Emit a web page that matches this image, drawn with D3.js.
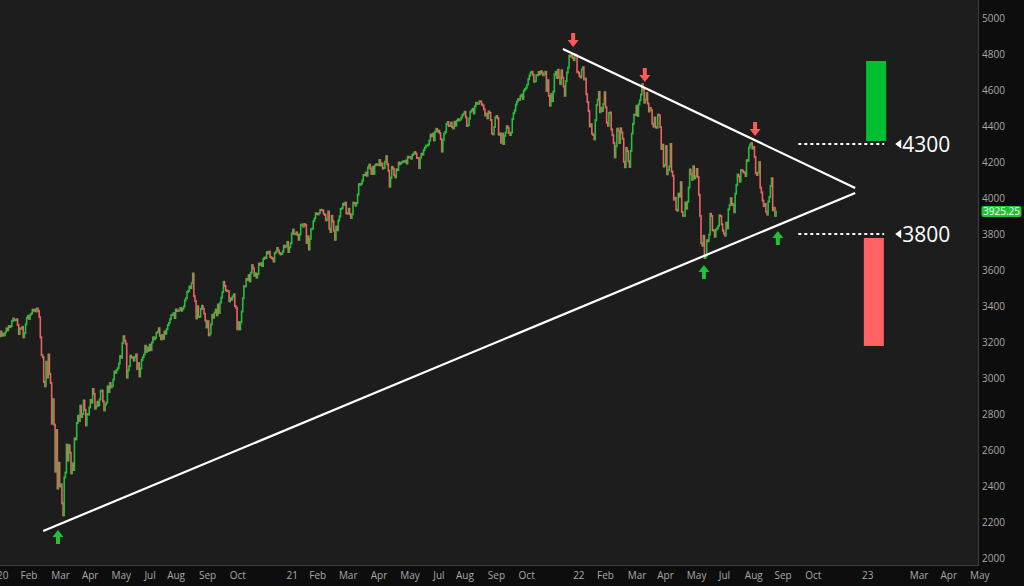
<!DOCTYPE html>
<html><head><meta charset="utf-8">
<script src="https://cdnjs.cloudflare.com/ajax/libs/d3/7.8.5/d3.min.js"></script>
<style>html,body{margin:0;padding:0;background:#0d0d0d;overflow:hidden}</style>
</head><body><svg id="c" width="1024" height="586"></svg>
<script>
// Daily closes (S&P 500 futures), Jan 2020 .. Sep 2022
const closes2020 = [3258,3235,3246,3237,3253,3275,3265,3288,3283,3289,3317,3330,3321,3321,3326,3295,3244,3276,3273,3284,3226,
3249,3298,3335,3345,3328,3352,3358,3379,3374,3380,3370,3386,3373,3338,3226,3128,3116,2979,2954,
3090,3003,3130,3023,2972,2746,2882,2741,2480,2711,2386,2529,2398,2409,2304,2237,2447,2475,2630,2541,2626,2585,
2470,2526,2489,2664,2659,2750,2790,2761,2846,2783,2800,2875,2823,2737,2799,2797,2837,2878,2863,2939,2912,
2830,2842,2868,2848,2881,2929,2930,2870,2820,2852,2863,2953,2922,2972,2948,2955,2991,3036,3029,3044,
3055,3080,3122,3112,3193,3232,3207,3190,3002,3041,3066,3124,3113,3115,3097,3117,3131,3050,3083,3009,3053,3100,
3115,3130,3179,3145,3169,3152,3185,3155,3197,3226,3215,3224,3251,3257,3276,3235,3215,3239,3218,3258,3246,3271,
3294,3306,3327,3349,3351,3360,3333,3380,3373,3372,3381,3389,3374,3385,3397,3431,3443,3478,3484,3508,3500,
3527,3580,3455,3427,3331,3398,3339,3341,3383,3401,3385,3357,3319,3281,3315,3237,3246,3298,3351,3335,3363,
3380,3348,3408,3361,3419,3446,3477,3534,3511,3488,3483,3483,3426,3443,3435,3453,3465,3400,3390,3271,3310,3270,
3310,3369,3443,3510,3509,3550,3545,3572,3537,3585,3627,3609,3568,3581,3558,3577,3635,3629,3638,3622,
3662,3669,3666,3699,3692,3702,3672,3668,3663,3647,3694,3701,3722,3709,3694,3687,3690,3703,3735,3727,3732,3756];
const closes2021 = [3700,3726,3748,3803,3824,3799,3801,3809,3795,3768,3798,3851,3853,3841,3855,3849,3750,3787,3714,
3773,3826,3830,3871,3886,3915,3911,3909,3916,3934,3932,3931,3913,3906,3876,3881,3925,3829,3811,
3901,3870,3819,3768,3841,3821,3875,3898,3939,3943,3968,3962,3974,3915,3913,3940,3910,3889,3909,3974,3971,3958,3972,
4019,4077,4073,4079,4097,4128,4127,4141,4124,4170,4185,4163,4134,4173,4134,4180,4187,4186,4183,4211,4181,
4192,4164,4167,4201,4232,4188,4152,4063,4112,4173,4163,4127,4115,4159,4155,4197,4188,4195,4200,4204,
4202,4208,4192,4229,4226,4227,4219,4239,4247,4255,4246,4223,4221,4166,4224,4246,4241,4266,4280,4291,4291,4297,
4319,4352,4343,4358,4320,4369,4384,4369,4374,4360,4327,4258,4323,4358,4367,4411,4422,4401,4400,4419,4395,
4387,4423,4402,4429,4437,4432,4436,4447,4460,4468,4479,4448,4400,4405,4441,4479,4486,4496,4470,4509,4529,4523,
4524,4537,4535,4520,4514,4493,4459,4468,4443,4480,4473,4433,4358,4354,4395,4448,4455,4443,4352,4359,4307,
4357,4300,4345,4363,4399,4391,4361,4350,4364,4438,4471,4486,4519,4536,4549,4545,4566,4574,4551,4596,4605,
4613,4630,4660,4680,4697,4701,4685,4646,4649,4682,4682,4700,4688,4704,4697,4682,4690,4701,4595,4655,4567,
4513,4577,4538,4591,4686,4701,4667,4712,4668,4634,4709,4668,4620,4568,4649,4697,4725,4791,4786,4793,4778,4766];
const closes2022 = [4797,4793,4701,4696,4677,4670,4713,4726,4659,4663,4577,4533,4483,4398,4410,4357,4350,4326,4432,4516,
4546,4589,4477,4501,4484,4522,4587,4504,4419,4401,4472,4475,4381,4349,4305,4226,4288,4385,4374,
4306,4387,4364,4329,4201,4171,4278,4260,4204,4173,4262,4358,4412,4463,4461,4512,4456,4520,4543,4575,4632,4602,4530,
4546,4583,4525,4481,4500,4488,4413,4397,4447,4392,4391,4463,4459,4394,4272,4296,4175,4183,4288,4132,
4155,4175,4300,4147,4123,3991,4001,3935,3930,4024,4008,4088,3923,3901,3901,3974,3941,3979,4058,4158,4132,
4101,4176,4109,4121,4161,4116,4018,3901,3750,3735,3790,3667,3675,3765,3760,3796,3912,3900,3821,3819,3785,
3825,3831,3845,3903,3899,3854,3819,3802,3791,3863,3831,3937,3960,3999,3962,3967,3921,4024,4073,4130,
4119,4091,4155,4152,4145,4140,4122,4210,4207,4280,4297,4305,4275,4284,4228,4138,4128,4141,4199,4058,4031,3986,3955,
3967,3924,3908,3980,4006,4067,4110,3932,3946,3901,3925];
const firstOpen = 3231;
const lastPrice = 3925.25;

// Axis labels (position in trading days from 2 Jan 2020)
const xTickLabels = ["20","Feb","Mar","Apr","May","Jul","Aug","Sep","Oct","21","Feb","Mar","Apr","May","Jul","Aug","Sep","Oct","22","Feb","Mar","Apr","May","Jul","Aug","Sep","Oct","23","Mar","Apr","May"];
const xTickDays = [-2.6,18,45,72,98,127,147,175,202,252,272,298,326,352,381,401,429,456,504,525,552,578,604,632,655,681,708,758,800,827,853];
const yTicks = [2000,2200,2400,2600,2800,3000,3200,3400,3600,3800,4000,4200,4400,4600,4800,5000];

// Annotations (day, price)
const trendLower = [[38,2150],[752,4028]];
const trendUpper = [[495,4828],[752,4056]];
const redArrows = [[504,4839],[567,4644],[664,4344]];
const greenArrows = [[51,2156],[619,3628],[684,3817]];
const levels = [4300, 3800];
const levelSpan = [702, 777.5];
const upZone = {d0:761.6, d1:779.2, p0:4317, p1:4761};
const downZone = {d0:759.6, d1:777.2, p0:3178, p1:3778};

const closes = [...closes2020, ...closes2021, ...closes2022];
const candles = closes.map((c,i)=>({i, o: i===0?firstOpen:closes[i-1], c}));

const W=1024,H=586, plotR=978, plotB=566;
const svg = d3.select("#c");
const x = d3.scaleLinear().domain([0,860]).range([0,plotR]);
const y = d3.scaleLinear().domain([2000,5000]).range([558,18]);

svg.append("rect").attr("width",W).attr("height",H).attr("fill","#0d0d0d");
svg.append("rect").attr("width",plotR).attr("height",plotB).attr("fill","#1d1d1d");
svg.append("line").attr("x1",plotR+0.5).attr("x2",plotR+0.5).attr("y1",0).attr("y2",plotB).attr("stroke","#3e3e3e");
svg.append("line").attr("x1",0).attr("x2",plotR).attr("y1",plotB-0.5).attr("y2",plotB-0.5).attr("stroke","#3e3e3e");

const plot = svg.append("g");
const green="#22c03c", red="#ee6262";
plot.selectAll("rect.cd").data(candles).join("rect").attr("class","cd")
  .attr("x",d=>x(d.i)-0.3).attr("width",1.6)
  .attr("y",d=>y(Math.max(d.o,d.c))-1)
  .attr("height",d=>Math.max(1.5,Math.abs(y(d.o)-y(d.c))+2))
  .attr("fill",d=>d.c>=d.o?green:red);

// trend lines
const line = d3.line().x(d=>x(d[0])).y(d=>y(d[1]));
[trendLower,trendUpper].forEach(t=>plot.append("path").attr("d",line(t)).attr("stroke","#ffffff").attr("stroke-width",2.2).attr("fill","none"));

// arrows
function arrowPath(dir){ // dir=1 tip down, -1 tip up; tip at (0,0)
  const s=dir;
  return `M0,0 L-5.5,${-7*s} L-2,${-7*s} L-2,${-14*s} L2,${-14*s} L2,${-7*s} L5.5,${-7*s} Z`;
}
plot.selectAll("path.ra").data(redArrows).join("path").attr("class","ra")
  .attr("d",arrowPath(1)).attr("transform",d=>`translate(${x(d[0])},${y(d[1])})`).attr("fill","#ff5a5a");
plot.selectAll("path.ga").data(greenArrows).join("path").attr("class","ga")
  .attr("d",arrowPath(-1)).attr("transform",d=>`translate(${x(d[0])},${y(d[1])})`).attr("fill","#1ec337");

// zones
plot.append("rect").attr("x",x(upZone.d0)).attr("width",x(upZone.d1)-x(upZone.d0))
  .attr("y",y(upZone.p1)).attr("height",y(upZone.p0)-y(upZone.p1)).attr("fill","#00c032");
plot.append("rect").attr("x",x(downZone.d0)).attr("width",x(downZone.d1)-x(downZone.d0))
  .attr("y",y(downZone.p1)).attr("height",y(downZone.p0)-y(downZone.p1)).attr("fill","#ff6262");

// levels
levels.forEach(l=>{
  plot.append("line").attr("x1",x(levelSpan[0])).attr("x2",x(levelSpan[1]))
    .attr("y1",y(l)).attr("y2",y(l)).attr("stroke","#ffffff").attr("stroke-width",2).attr("stroke-dasharray","3,3");
  const tx = x(levelSpan[1])+11;
  plot.append("path").attr("d",`M${tx},${y(l)} L${tx+6},${y(l)-4.5} L${tx+6},${y(l)+4.5} Z`).attr("fill","#ffffff");
  plot.append("text").attr("x",tx+7).attr("y",y(l)).attr("dy","0.36em")
    .attr("font-family","'Open Sans', sans-serif").attr("font-size",21).attr("fill","#ffffff").text(l);
});

// y axis
const yAxis = svg.append("g").attr("transform",`translate(${plotR},0)`)
  .call(d3.axisRight(y).tickValues(yTicks).tickSize(0).tickPadding(4).tickFormat(d3.format("d")));
yAxis.select(".domain").remove();
yAxis.selectAll("text").attr("fill","#a8a8a8").attr("font-family","'Open Sans', sans-serif").attr("font-size",10);

// price tag
const tagY = y(lastPrice);
svg.append("rect").attr("x",plotR+3.5).attr("y",tagY-5.5).attr("width",40).attr("height",11).attr("rx",2).attr("fill","#1ec337");
svg.append("text").attr("x",plotR+23.5).attr("y",tagY).attr("dy","0.36em").attr("text-anchor","middle")
  .attr("font-family","'Open Sans', sans-serif").attr("font-size",10).attr("fill","#ffffff").text(lastPrice.toFixed(2));

// x labels
svg.append("g").selectAll("text").data(xTickLabels).join("text")
  .attr("x",(d,i)=>x(xTickDays[i])).attr("y",579)
  .attr("font-family","'Open Sans', sans-serif").attr("font-size",10).attr("fill","#a8a8a8").text(d=>d);
</script></body></html>
